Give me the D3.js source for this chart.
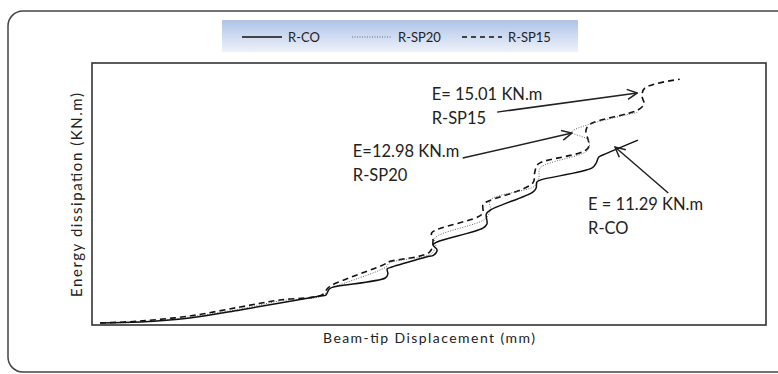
<!DOCTYPE html>
<html>
<head>
<meta charset="utf-8">
<script src="https://cdn.jsdelivr.net/npm/d3@7"></script>
<style>
  body { margin: 0; background: #fff; }
  svg text { font-family: Lato, "Open Sans", sans-serif; fill: #222; }
</style>
</head>
<body>
<svg id="chart"></svg>
<script>
// series (displacement in arbitrary units, energy in KN.m)
const rcoDisp   = [1.2, 7.1, 14.5, 22.0, 27.9, 33.8, 34.7, 35.2, 35.8, 43.5, 43.9, 43.8, 44.5, 49.6, 50.7, 51.2, 50.6, 51.2, 58.0, 58.6, 58.5, 59.1, 65.4, 65.9, 66.0, 66.5, 74.2, 74.8, 75.2, 75.8, 81.0];
const rcoEnergy = [0.12, 0.18, 0.43, 0.92, 1.34, 1.77, 1.83, 2.20, 2.32, 2.87, 3.11, 3.42, 3.54, 4.15, 4.27, 4.58, 4.89, 5.07, 5.92, 6.17, 6.78, 7.02, 8.12, 8.37, 8.73, 8.85, 9.59, 9.89, 10.26, 10.38, 11.29];

const sp20Disp   = [1.2, 7.1, 14.5, 22.0, 27.9, 34.1, 35.3, 35.9, 43.6, 44.1, 50.3, 51.0, 50.9, 58.3, 59.1, 59.1, 65.7, 66.3, 66.5, 73.6, 73.6, 71.2, 80.9];
const sp20Energy = [0.12, 0.18, 0.49, 0.98, 1.47, 1.77, 2.20, 2.32, 3.54, 3.79, 4.34, 4.82, 5.31, 6.47, 7.02, 7.63, 8.49, 8.98, 9.59, 10.69, 11.30, 11.79, 12.98];

const sp15Disp   = [1.2, 7.1, 14.5, 22.0, 27.9, 34.1, 35.0, 35.6, 43.5, 43.9, 50.1, 50.6, 50.4, 57.9, 58.0, 58.5, 65.4, 65.7, 66.2, 73.6, 73.3, 73.9, 81.0, 81.9, 81.6, 82.0, 87.2];
const sp15Energy = [0.12, 0.24, 0.55, 1.10, 1.53, 1.83, 2.26, 2.44, 3.73, 3.85, 4.46, 5.19, 5.62, 6.78, 7.33, 7.51, 8.67, 9.34, 9.83, 10.81, 11.91, 12.27, 13.13, 13.50, 13.98, 14.47, 15.01];

const seriesNames = ['R-CO', 'R-SP20', 'R-SP15'];
const xLabel = 'Beam-tip Displacement (mm)';
const yLabel = 'Energy dissipation (KN.m)';

// annotation texts and where they sit (data units)
const noteLines1 = ['E= 15.01 KN.m', 'E=12.98 KN.m', 'E = 11.29 KN.m'];
const noteLines2 = ['R-SP15', 'R-SP20', 'R-CO'];
const noteAt    = [[50.4, 13.75], [38.7, 10.25], [73.6, 7.0]];
const arrowTail = [[60.1, 13.0], [55.0, 10.2], [85.5, 8.06]];
const arrowTip  = [[80.9, 14.17], [71.2, 11.72], [77.6, 10.87]];

const width = 778, height = 374;
const margin = {top: 63, right: 12, bottom: 49, left: 92};

const svg = d3.select('#chart').attr('width', width).attr('height', height);
const defs = svg.append('defs');

// outer rounded frame (runs past the right edge)
svg.append('rect')
  .attr('x', 8).attr('y', 11)
  .attr('width', 790).attr('height', 361)
  .attr('rx', 15)
  .attr('fill', 'none').attr('stroke', '#444').attr('stroke-width', 1.5);

const xScale = d3.scaleLinear().domain([0, 100]).range([margin.left, width - margin.right]);
const yScale = d3.scaleLinear().domain([0, 16]).range([height - margin.bottom, margin.top]);

// plot area border
svg.append('rect')
  .attr('x', xScale(0)).attr('y', yScale(16))
  .attr('width', xScale(100) - xScale(0)).attr('height', yScale(0) - yScale(16))
  .attr('fill', 'none').attr('stroke', '#333').attr('stroke-width', 1.6);

const line = d3.line()
  .x(d => xScale(d[0]))
  .y(d => yScale(d[1]))
  .curve(d3.curveCatmullRom.alpha(0.5));

const styles = [
  {stroke: '#111', width: 1.5, dash: null},
  {stroke: '#666', width: 1, dash: '1,1.5'},
  {stroke: '#111', width: 1.6, dash: '6,4'}
];

const series = [
  d3.zip(rcoDisp, rcoEnergy),
  d3.zip(sp20Disp, sp20Energy),
  d3.zip(sp15Disp, sp15Energy)
];

// dashed first so the solid line sits on top
[2, 1, 0].forEach(i => {
  svg.append('path')
    .datum(series[i])
    .attr('d', line)
    .attr('fill', 'none')
    .attr('stroke', styles[i].stroke)
    .attr('stroke-width', styles[i].width)
    .attr('stroke-dasharray', styles[i].dash);
});

// axis titles
svg.append('text')
  .attr('x', 429).attr('y', 343)
  .attr('text-anchor', 'middle')
  .attr('font-size', 14)
  .attr('textLength', 212)
  .attr('lengthAdjust', 'spacing')
  .text(xLabel);

svg.append('text')
  .attr('transform', 'translate(82,195) rotate(-90)')
  .attr('text-anchor', 'middle')
  .attr('font-size', 15)
  .attr('textLength', 204)
  .attr('lengthAdjust', 'spacing')
  .text(yLabel);

// arrows
defs.append('marker')
  .attr('id', 'arrowhead')
  .attr('viewBox', '0 0 12 12')
  .attr('refX', 11).attr('refY', 6)
  .attr('markerWidth', 12).attr('markerHeight', 12)
  .attr('markerUnits', 'userSpaceOnUse')
  .attr('orient', 'auto')
  .append('path')
  .attr('d', 'M1,1 L11,6 L1,11')
  .attr('fill', 'none').attr('stroke', '#222').attr('stroke-width', 1.5);

arrowTail.forEach((t, i) => {
  svg.append('line')
    .attr('x1', xScale(t[0])).attr('y1', yScale(t[1]))
    .attr('x2', xScale(arrowTip[i][0])).attr('y2', yScale(arrowTip[i][1]))
    .attr('stroke', '#222').attr('stroke-width', 1.5)
    .attr('marker-end', 'url(#arrowhead)');
});

noteAt.forEach((p, i) => {
  const g = svg.append('text')
    .attr('x', xScale(p[0])).attr('y', yScale(p[1]))
    .attr('font-size', 16.5);
  g.append('tspan').text(noteLines1[i]);
  g.append('tspan').attr('x', xScale(p[0])).attr('dy', 24).text(noteLines2[i]);
});

// legend box with blue gradient
const grad = defs.append('linearGradient')
  .attr('id', 'legendFill').attr('x1', 0).attr('y1', 0).attr('x2', 0).attr('y2', 1);
grad.append('stop').attr('offset', '0%').attr('stop-color', '#aec3e8');
grad.append('stop').attr('offset', '100%').attr('stop-color', '#eef2fa');

const legend = svg.append('g').attr('transform', 'translate(222,20)');
legend.append('rect')
  .attr('width', 356).attr('height', 32)
  .attr('fill', 'url(#legendFill)');

const legendX = [20, 130, 240];
seriesNames.forEach((name, i) => {
  const gx = legendX[i];
  legend.append('line')
    .attr('x1', gx).attr('x2', gx + 40)
    .attr('y1', 17).attr('y2', 17)
    .attr('stroke', styles[i].stroke)
    .attr('stroke-width', i === 1 ? 1 : 1.5)
    .attr('stroke-dasharray', i === 2 ? '5,4' : styles[i].dash);
  legend.append('text')
    .attr('x', gx + 46).attr('y', 22)
    .attr('font-size', 13)
    .text(name);
});
</script>
</body>
</html>
